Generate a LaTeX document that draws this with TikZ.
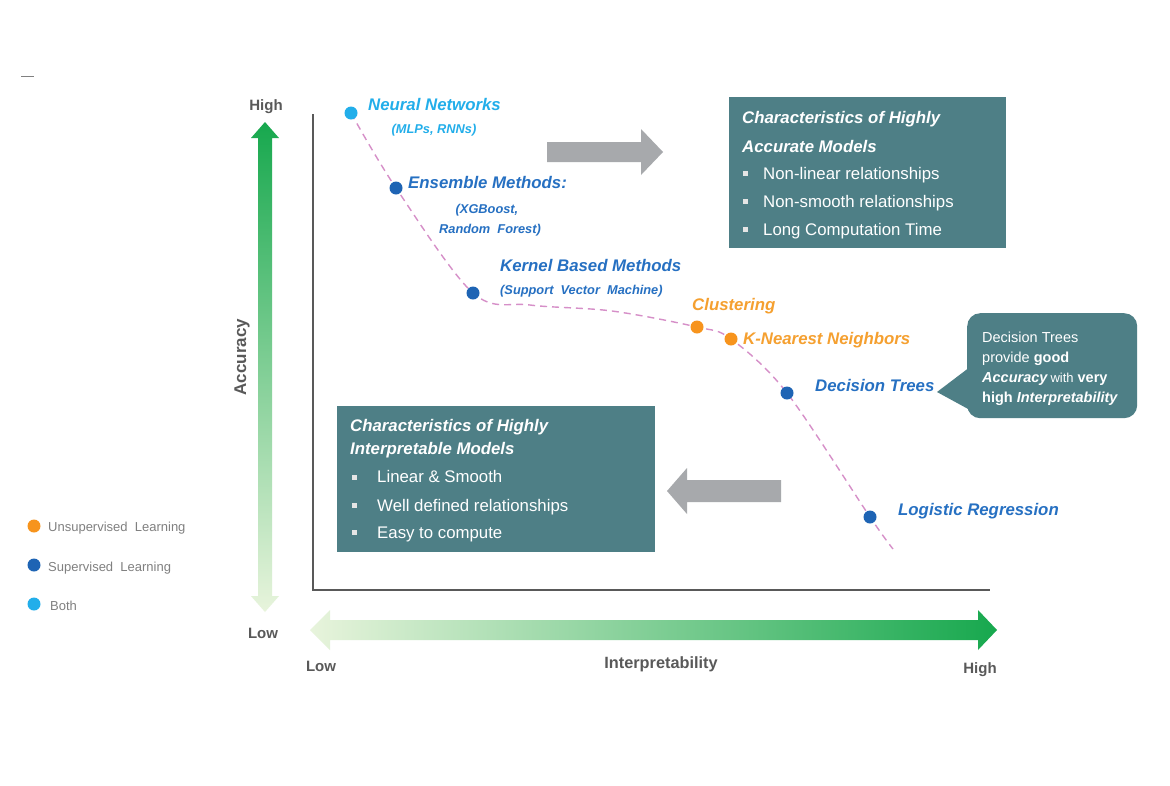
\documentclass[tikz,border=0pt]{standalone}
\usepackage{fontspec}
\setmainfont{Liberation Sans}
\usetikzlibrary{calc}
\newcommand\fsz[1]{\fontsize{#1}{#1}\selectfont}
\definecolor{boxteal}{HTML}{4E7F86}
\definecolor{lblue}{HTML}{22AEEA}
\definecolor{dblue}{HTML}{1E64B4}
\definecolor{tblue}{HTML}{2670C2}
\definecolor{orng}{HTML}{F7941D}
\definecolor{torng}{HTML}{F5A030}
\definecolor{axgray}{HTML}{595959}
\definecolor{leggray}{HTML}{808080}
\definecolor{curvepink}{HTML}{D68FC8}
\definecolor{arrgray}{HTML}{A7A9AC}
\definecolor{agreen}{HTML}{17A84E}
\definecolor{apale}{HTML}{E8F4DC}
\begin{document}
\begin{tikzpicture}[x=1pt,y=-1pt,
  lab/.style={inner sep=0pt, text height=12pt, text depth=0pt, anchor=west},
  meth/.style={lab, font=\fsz{16.8}\bfseries\itshape},
  sub/.style={inner sep=0pt, text height=9.2pt, text depth=0pt, anchor=center, font=\fsz{12.8}\bfseries\itshape},
  dot/.style={circle, inner sep=0pt, minimum size=13pt},
  tealbox/.style={fill=boxteal, draw=none, anchor=north west, inner sep=0pt},
  boxtitle/.style={lab, text=white, font=\fsz{16.8}\bfseries\itshape},
  boxitem/.style={lab, text=white, font=\fsz{16.8}},
  bul/.style={fill=white!90!black, inner sep=0pt, minimum size=5pt},
  calltxt/.style={inner sep=0pt, text height=10.4pt, text depth=0pt, anchor=west, text=white, font=\fsz{14.5}},
  axlab/.style={inner sep=0pt, text height=10.8pt, text depth=0pt, text=axgray, font=\fsz{15}\bfseries},
  legtxt/.style={inner sep=0pt, text height=9.3pt, text depth=0pt, anchor=west, text=leggray, font=\fsz{13}},
  curve/.style={draw=curvepink, line width=1.4pt, dash pattern=on 7pt off 5pt},
  grayarrow/.style={fill=arrgray, draw=none},
  axisline/.style={draw=axgray, line width=1.2pt},
]
\useasboundingbox[fill=white] (0,0) rectangle (1170,785);

% stray mark
\coordinate (sm1) at (21,76);
\coordinate (sm2) at (34,76);
\draw[leggray, line width=0.8pt] (sm1) -- (sm2);

% gradient axis arrows
\shade[top color=agreen, bottom color=apale]
  (265,122) -- (279,138) -- (272,138) -- (272,596) -- (279,596) -- (265,612)
  -- (251,596) -- (258,596) -- (258,138) -- (251,138) -- cycle;
\shade[left color=apale, right color=agreen]
  (310,630) -- (330,610) -- (330,620) -- (978,620) -- (978,610) -- (997,630)
  -- (978,650) -- (978,640) -- (330,640) -- (330,650) -- cycle;

% axes
\coordinate (otop) at (313,114);
\coordinate (orig) at (313,590);
\coordinate (oright) at (990,590);
\draw[axisline] (otop) -- (orig) -- (oright);

% axis labels
\node[axlab] (yhigh) at (266,105) {High};
\node[axlab] (ylow) at (263,633.5) {Low};
\node[axlab] (xlow) at (321,666.5) {Low};
\node[axlab] (xhigh) at (980,668) {High};
\node[axlab, font=\fsz{16.3}\bfseries, text height=11.7pt] (xname) at (661,663) {Interpretability};
\node[axlab, font=\fsz{17}\bfseries, text height=12.2pt, rotate=90] (yname) at (240,357) {Accuracy};

% gray arrows
\fill[grayarrow] (547,142) -- (641,142) -- (641,129) -- (663,152) -- (641,175) -- (641,162) -- (547,162) -- cycle;
\fill[grayarrow] (781,480) -- (687,480) -- (687,468) -- (667,491) -- (687,514) -- (687,502) -- (781,502) -- cycle;

% curve
\coordinate (pnn) at (351,113);
\coordinate (pens) at (396,188);
\coordinate (pker) at (473,293);
\coordinate (pm1) at (530,305);
\coordinate (pm2) at (612,311);
\coordinate (pclu) at (697,327);
\coordinate (pknn) at (731,339);
\coordinate (pdt) at (787,393);
\coordinate (plr) at (870,517);
\coordinate (pend) at (893,549);
\draw[curve] plot[smooth, tension=0.55] coordinates {(pnn) (pens) (pker) (pm1) (pm2) (pclu) (pknn) (pdt) (plr) (pend)};

% dots
\node[dot, fill=lblue] (nn) at (pnn) {};
\node[dot, fill=dblue] (ens) at (pens) {};
\node[dot, fill=dblue] (ker) at (pker) {};
\node[dot, fill=orng] (clu) at (pclu) {};
\node[dot, fill=orng] (knn) at (pknn) {};
\node[dot, fill=dblue] (dt) at (pdt) {};
\node[dot, fill=dblue] (lr) at (plr) {};

% method labels
\node[meth, text=lblue] (lnn) at (368,104) {Neural Networks};
\node[sub, text=lblue] (snn) at (434,129) {(MLPs, RNNs)};
\node[meth, text=tblue] (lens) at (408,182) {Ensemble Methods:};
\node[sub, text=tblue] (sens1) at (487,208.5) {(XGBoost,};
\node[sub, text=tblue] (sens2) at (490,229) {Random\ \ Forest)};
\node[meth, text=tblue] (lker) at (500,265.5) {Kernel Based Methods};
\node[sub, text=tblue, anchor=west] (sker) at (500,290) {(Support\ \ Vector\ \ Machine)};
\node[meth, text=torng] (lclu) at (692,304) {Clustering};
\node[meth, text=torng] (lknn) at (743,338.5) {K-Nearest Neighbors};
\node[meth, text=tblue] (ldt) at (815,385) {Decision Trees};
\node[meth, text=tblue] (llr) at (898,509.5) {Logistic Regression};

% accurate box
\node[tealbox, minimum width=277pt, minimum height=151pt] (accbox) at (729,97) {};
\node[boxtitle] (acct1) at (742,117) {Characteristics of Highly};
\node[boxtitle] (acct2) at (742,146) {Accurate Models};
\node[bul] (ab1) at (745,173) {};
\node[bul] (ab2) at (745,201) {};
\node[bul] (ab3) at (745,229) {};
\node[boxitem] (acci1) at (763,173) {Non-linear\ relationships};
\node[boxitem] (acci2) at (763,201) {Non-smooth relationships};
\node[boxitem] (acci3) at (763,229) {Long Computation Time};

% interpretable box
\node[tealbox, minimum width=318pt, minimum height=146pt] (intbox) at (337,406) {};
\node[boxtitle] (intt1) at (350,425) {Characteristics of Highly};
\node[boxtitle] (intt2) at (350,448.5) {Interpretable Models};
\node[bul] (ib1) at (354,477) {};
\node[bul] (ib2) at (354,505) {};
\node[bul] (ib3) at (354,532) {};
\node[boxitem] (inti1) at (377,476.5) {Linear \& Smooth};
\node[boxitem] (inti2) at (377,505) {Well defined relationships};
\node[boxitem] (inti3) at (377,532) {Easy to compute};

% callout
\node[fill=boxteal, rounded corners=13pt, minimum width=170pt, minimum height=105pt, anchor=north west, inner sep=0pt] (call) at (967,313) {};
\coordinate (ctip) at (937,392);
\fill[boxteal] ($(call.north west)+(3,54)$) -- (ctip) -- ($(call.north west)+(3,97)$) -- cycle;
\node[calltxt] (c1) at (982,337) {Decision Trees};
\node[calltxt] (c2) at (982,357) {provide \textbf{good}};
\node[calltxt] (c3) at (982,377) {\textbf{\textit{Accuracy}}\,{\fsz{13}with} \textbf{very}};
\node[calltxt] (c4) at (982,397) {\textbf{high} \textbf{\textit{Interpretability}}};

% legend
\node[dot, fill=orng] (lg1) at (34,526) {};
\node[dot, fill=dblue] (lg2) at (34,565) {};
\node[dot, fill=lblue] (lg3) at (34,604) {};
\node[legtxt] (lt1) at (48,527) {Unsupervised\ \ Learning};
\node[legtxt] (lt2) at (48,567) {Supervised\ \ Learning};
\node[legtxt] (lt3) at (50,606) {Both};
\end{tikzpicture}
\end{document}
